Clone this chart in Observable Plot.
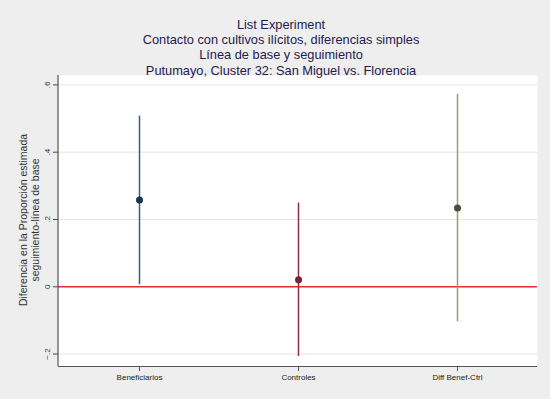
<!DOCTYPE html>
<html><head><meta charset="utf-8">
<script src="https://cdn.jsdelivr.net/npm/d3@7"></script>
<script src="https://cdn.jsdelivr.net/npm/@observablehq/plot@0.6"></script>
<style>
html,body{margin:0;padding:0;background:#eeeeee;}
#wrap{position:relative;width:550px;height:399px;background:#eeeeee;font-family:"Liberation Sans",Arial,sans-serif;overflow:hidden;}
#title{position:absolute;left:0;top:17px;width:562px;text-align:center;color:#1e2052;font-size:12.8px;line-height:15.2px;}
#chart{position:absolute;left:0;top:0;}
#ytitle{position:absolute;left:29px;top:220px;width:260px;transform:translate(-50%,-50%) rotate(-90deg);text-align:center;color:#333;font-size:10.5px;line-height:11.5px;white-space:nowrap;}
</style></head>
<body>
<div id="wrap">
<div id="chart"></div>
<div id="title">List Experiment<br>Contacto con cultivos ilícitos, diferencias simples<br>Línea de base y seguimiento<br>Putumayo, Cluster 32: San Miguel vs. Florencia</div>
<div id="ytitle">Diferencia en la Proporción estimada<br>seguimiento-línea de base</div>
</div>
<script>
const categories = ["Beneficiarios", "Controles", "Diff Benef-Ctrl"];
const estimates = [0.258, 0.021, 0.234];
const lower = [0.006, -0.207, -0.104];
const upper = [0.507, 0.249, 0.572];
const yTicks = [-0.2, 0, 0.2, 0.4, 0.6];
const yDomain = [-0.237, 0.628];
const lineColors = ["#3b5d86", "#8c2f45", "#9a9e6c"];
const dotColors = ["#1c3352", "#7a2338", "#4a4c3a"];

const data = categories.map((c, i) => ({cat: c, est: estimates[i], lo: lower[i], hi: upper[i], lc: lineColors[i], dc: dotColors[i]}));
const fmt = d => d === 0 ? "0" : d3.format(".1f")(d).replace("0.", ".");

const plot = Plot.plot({
  width: 550, height: 399,
  marginLeft: 58, marginRight: 13, marginTop: 75, marginBottom: 33,
  style: {background: "transparent", fontFamily: "Liberation Sans, Arial, sans-serif"},
  x: {type: "point", domain: categories, padding: 0.5, label: null},
  y: {domain: yDomain, label: null},
  marks: [
    Plot.frame({fill: "white", stroke: null}),
    Plot.gridY(yTicks, {stroke: "#e6e6e6", strokeOpacity: 1, strokeWidth: 1}),
    Plot.ruleY([0], {stroke: "#f02a2a", strokeWidth: 1.6}),
    Plot.ruleX(data, {x: "cat", y1: "lo", y2: "hi", stroke: d => d.lc, strokeWidth: 1.5}),
    Plot.dot(data, {x: "cat", y: "est", r: 3.5, fill: d => d.dc, stroke: null}),
    Plot.axisY(yTicks, {tickFormat: fmt, tickRotate: -90, tickSize: 5, fontSize: 8, fill: "#333", stroke: "#444", tickPadding: 4, label: null}),
    Plot.ruleY([yDomain[0]], {stroke: "#555", strokeWidth: 1.2}),
    Plot.axisX({tickSize: 5, fontSize: 8, fill: "#222", stroke: "#555", tickPadding: 3, label: null})
  ]
});
document.getElementById("chart").appendChild(plot);
// left axis line along the y range
const ns = "http://www.w3.org/2000/svg";
const ln = document.createElementNS(ns, "line");
const ys = plot.scale("y");
ln.setAttribute("x1", 58); ln.setAttribute("x2", 58);
ln.setAttribute("y1", ys.apply(yDomain[1])); ln.setAttribute("y2", ys.apply(yDomain[0]));
ln.setAttribute("stroke", "#555"); ln.setAttribute("stroke-width", 1.2);
plot.appendChild(ln);
</script>
</body></html>
